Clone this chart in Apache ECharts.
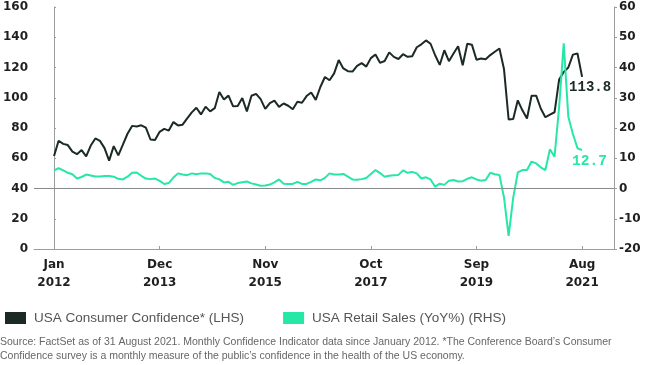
<!DOCTYPE html>
<html><head><meta charset="utf-8">
<script src="https://cdn.jsdelivr.net/npm/echarts@6/dist/echarts.min.js"></script>
<style>html,body{margin:0;padding:0;background:#fff}#c{width:650px;height:365px}</style>
</head><body><div id="c"></div>
<script>
// Month index 0 = Jan 2012 ... 115 = Aug 2021
const tickMonths = [0, 23, 46, 69, 92, 115];
const tickLabels = ['Jan\n2012', 'Dec\n2013', 'Nov\n2015', 'Oct\n2017', 'Sep\n2019', 'Aug\n2021'];

const consumerConfidence = [
  61.5, 71.6, 69.5, 68.7, 64.4, 62.7, 65.4, 61.3, 68.4, 73.1, 71.5, 66.7,
  58.4, 68.0, 61.9, 69.0, 76.2, 81.4, 81.0, 81.8, 80.2, 72.4, 72.0, 77.5,
  79.4, 78.3, 83.9, 81.7, 82.2, 86.4, 90.3, 93.4, 89.0, 94.1, 91.0, 93.1,
  103.8, 98.8, 101.4, 94.3, 94.6, 99.8, 91.0, 101.3, 102.6, 99.1, 92.6, 96.5,
  98.1, 94.0, 96.2, 94.7, 92.4, 97.4, 96.7, 101.1, 103.5, 98.6, 107.1, 113.7,
  111.6, 116.1, 124.9, 119.4, 117.6, 117.3, 121.1, 122.9, 120.6, 126.2, 128.6, 123.1,
  124.3, 130.0, 127.0, 125.6, 128.8, 127.1, 127.4, 133.4, 135.3, 137.9, 135.7, 128.1,
  121.7, 131.4, 124.2, 129.2, 134.1, 121.5, 135.7, 135.1, 125.1, 125.9, 125.5, 128.2,
  130.4, 132.6, 118.8, 85.7, 85.9, 98.3, 91.7, 86.3, 101.3, 101.4, 92.9, 87.1,
  88.9, 90.4, 112.0, 117.0, 120.0, 128.5, 129.3, 113.8
];

const retailSalesYoY = [
  6.0, 6.7, 6.0, 5.2, 4.7, 3.3, 3.8, 4.6, 4.3, 4.0, 4.0, 4.1,
  4.1, 3.9, 3.2, 3.0, 3.9, 5.2, 5.3, 4.2, 3.3, 3.1, 3.3, 2.5,
  1.5, 1.8, 3.6, 5.0, 4.6, 4.4, 5.0, 4.7, 5.0, 5.0, 4.8, 3.5,
  3.0, 2.0, 2.2, 1.2, 1.8, 2.1, 2.3, 1.7, 1.3, 0.9, 1.0, 1.3,
  2.0, 3.0, 1.6, 1.5, 1.5, 2.2, 1.5, 1.5, 2.2, 3.0, 2.7, 3.5,
  5.0, 4.6, 4.6, 4.8, 3.9, 3.0, 2.9, 3.1, 3.5, 4.8, 6.1, 5.1,
  3.9, 4.2, 4.4, 4.5, 6.0, 5.2, 5.5, 5.0, 3.3, 3.7, 3.0, 0.6,
  1.6, 1.2, 2.6, 2.8, 2.3, 2.4, 3.2, 3.7, 3.0, 2.6, 2.8, 5.2,
  4.7, 4.5, -3.0, -15.7, -3.0, 5.3, 6.1, 6.1, 8.9, 8.3, 7.0, 6.1,
  13.0, 10.5, 27.0, 48.0, 23.7, 18.0, 13.3, 12.7
];

const leftTicks = { min: 0, max: 160, interval: 20 };
const rightTicks = { min: -20, max: 60, interval: 10 };

const seriesNames = ['USA Consumer Confidence* (LHS)', 'USA Retail Sales (YoY%) (RHS)'];
const sourceLines = [
  'Source: FactSet as of 31 August 2021. Monthly Confidence Indicator data since January 2012. *The Conference Board\u2019s Consumer',
  'Confidence survey is a monthly measure of the public\u2019s confidence in the health of the US economy.'
];

const DARK = '#1b2a22';
const GREEN = '#25e7a6';
const AXIS = '#9c9c9c';
const LABEL = '#1f1f1f';
const labelFont = { fontFamily: 'DejaVu Sans', fontWeight: 'bold', fontSize: 12, color: LABEL };

const chart = echarts.init(document.getElementById('c'), null, { renderer: 'canvas' });
chart.setOption({
  animation: false,
  grid: { left: 33, right: 36, top: 7, bottom: 116 },
  legend: {
    left: 0, top: 306, itemWidth: 21, itemHeight: 12, itemGap: 39, icon: 'rect',
    textStyle: { fontFamily: 'Liberation Sans', fontSize: 13.5, color: '#555', padding: [0, 0, 0, 3] },
    data: seriesNames
  },
  xAxis: {
    type: 'value', min: -4.35, max: 121.95,
    splitLine: { show: false },
    axisLine: { show: true, lineStyle: { color: AXIS, width: 1 } },
    axisTick: { show: true, inside: true, length: 3, lineStyle: { color: AXIS }, customValues: tickMonths },
    axisLabel: Object.assign({ customValues: tickMonths, margin: 7, lineHeight: 18,
      formatter: v => tickLabels[tickMonths.indexOf(Math.round(v))] || '' }, labelFont)
  },
  yAxis: [
    {
      type: 'value', min: leftTicks.min, max: leftTicks.max, interval: leftTicks.interval,
      position: 'left',
      splitLine: { show: false },
      axisLine: { show: true, lineStyle: { color: AXIS, width: 1 } },
      axisTick: { show: true, inside: true, length: 2, lineStyle: { color: AXIS } },
      axisLabel: Object.assign({ margin: 6 }, labelFont)
    },
    {
      type: 'value', min: rightTicks.min, max: rightTicks.max, interval: rightTicks.interval,
      position: 'right',
      splitLine: { show: false },
      axisLine: { show: true, lineStyle: { color: AXIS, width: 1 } },
      axisTick: { show: true, inside: false, length: 3, lineStyle: { color: AXIS } },
      axisLabel: Object.assign({ margin: 5 }, labelFont)
    }
  ],
  series: [
    {
      name: seriesNames[0], type: 'line', yAxisIndex: 0, color: DARK,
      showSymbol: false, symbol: 'none',
      lineStyle: { color: DARK, width: 2 },
      data: consumerConfidence.map((v, i) => [i, v]),
      endLabel: {
        show: true, formatter: p => p.value[1].toFixed(1), distance: 0, offset: [-13, 11],
        align: 'left', verticalAlign: 'middle',
        fontFamily: 'Liberation Mono', fontWeight: 'bold', fontSize: 14, color: DARK
      }
    },
    {
      name: seriesNames[1], type: 'line', yAxisIndex: 1, color: GREEN,
      showSymbol: false, symbol: 'none',
      lineStyle: { color: GREEN, width: 2 },
      data: retailSalesYoY.map((v, i) => [i, v]),
      endLabel: {
        show: true, formatter: p => p.value[1].toFixed(1), distance: 0, offset: [-10, 11],
        align: 'left', verticalAlign: 'middle',
        fontFamily: 'Liberation Mono', fontWeight: 'bold', fontSize: 14.5, color: GREEN
      },
      markLine: {
        silent: true, symbol: 'none', label: { show: false },
        lineStyle: { color: '#8a8a8a', width: 1, type: 'solid' },
        data: [{ yAxis: 0 }]
      }
    }
  ],
  graphic: [
    {
      type: 'text', left: 0, top: 335,
      style: {
        text: sourceLines.join('\n'), fill: '#666', lineHeight: 14,
        font: '10.5px "Liberation Sans", Arial, sans-serif'
      }
    }
  ]
});
</script></body></html>
